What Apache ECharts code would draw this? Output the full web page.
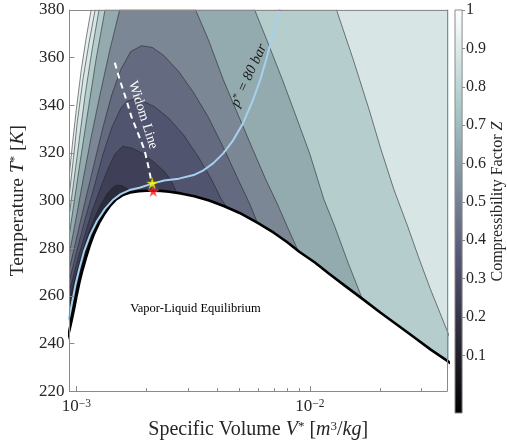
<!DOCTYPE html>
<html><head><meta charset="utf-8">
<script src="https://cdn.jsdelivr.net/npm/echarts@6/dist/echarts.min.js"></script>
<style>html,body{margin:0;padding:0;background:#fff}#c{width:507px;height:445px}</style>
</head><body><div id="c"></div>
<script>
// ---------------- data (V in m^3/kg, T in K) ----------------
const xTicksMajor = [1e-3, 1e-2];
const xTicksMinor = [2e-3, 3e-3, 4e-3, 5e-3, 6e-3, 7e-3, 8e-3, 9e-3, 2e-2, 3e-2];
const colorbarTicks = [0.1, 0.2, 0.3, 0.4, 0.5, 0.6, 0.7, 0.8, 0.9, 1.0];
const contourLevels = [1.1, 1.0, 0.9, 0.8, 0.7, 0.6, 0.5, 0.4, 0.3, 0.2, 0.1];

const contourZ110 = [[0.925e-3,308.6],[0.934e-3,311.1],[0.962e-3,323.6],[1.0e-3,338.2],[1.05e-3,354.9],[1.102e-3,368.3],[1.157e-3,380],[1.191e-3,387.5],[0.06,400]];
const contourZ100 = [[0.925e-3,300.2],[0.934e-3,302.7],[0.971e-3,317.3],[1.01e-3,333.2],[1.07e-3,351.6],[1.135e-3,366.6],[1.203e-3,380],[1.238e-3,387.5],[0.06,400]];
const contourZ090 = [[0.925e-3,291.9],[0.934e-3,294.4],[0.981e-3,309.8],[1.03e-3,325.7],[1.091e-3,344.5],[1.168e-3,363.3],[1.25e-3,380],[1.3e-3,387.5],[0.01238,387.5],[0.013,380],[0.01533,359.1],[0.01791,338.2],[0.02013,321.5],[0.02284,304.8],[0.02617,289.3],[0.02912,276.4],[0.03272,263.0],[0.03859,245.5],[0.04052,240.1]];
const contourZ080 = [[0.925e-3,283.5],[0.934e-3,286.0],[0.99e-3,302.7],[1.05e-3,319.4],[1.124e-3,338.2],[1.214e-3,359.1],[1.326e-3,380],[1.378e-3,387.5],[5.475e-3,387.5],[5.804e-3,380],[6.585e-3,366.6],[7.619e-3,350.8],[8.814e-3,334.1],[0.01,319.4],[0.01146,300.6],[0.01275,289.3],[0.01461,273.5],[0.01673,258.9]];
const contourZ070 = [[0.925e-3,275.2],[0.934e-3,277.7],[1.0e-3,293.1],[1.07e-3,309.0],[1.157e-3,326.5],[1.263e-3,344.5],[1.392e-3,363.3],[1.533e-3,380],[1.625e-3,387.5],[3.057e-3,387.5],[3.24e-3,380],[3.676e-3,367.5],[4.254e-3,350.8],[4.92e-3,336.1],[5.692e-3,321.5],[6.458e-3,309.0],[7.257e-3,298.5],[8.076e-3,288.1],[8.9e-3,278.9]];
const contourZ060 = [[0.925e-3,268.9],[0.934e-3,271.4],[1.01e-3,285.6],[1.091e-3,299.8],[1.191e-3,315.3],[1.3e-3,330.7],[1.419e-3,344.5],[1.548e-3,354.9],[1.707e-3,362.5],[1.898e-3,365.0],[2.113e-3,364.3],[2.374e-3,360.8],[2.747e-3,354.1],[3.178e-3,345.3],[3.676e-3,334.9],[4.254e-3,322.4],[4.92e-3,309.0],[5.528e-3,298.5],[5.917e-3,291.4]];
const contourZ050 = [[0.925e-3,263.9],[0.934e-3,266.4],[1.01e-3,279.7],[1.091e-3,292.3],[1.191e-3,305.6],[1.3e-3,319.4],[1.419e-3,330.7],[1.548e-3,338.6],[1.641e-3,341.6],[1.74e-3,342.4],[1.917e-3,341.8],[2.154e-3,339.5],[2.493e-3,334.5],[2.884e-3,327.4],[3.336e-3,318.2],[3.785e-3,309.0],[4.172e-3,300.6],[4.423e-3,297.1]];
const contourZ040 = [[0.925e-3,259.3],[0.934e-3,261.8],[1.0e-3,273.1],[1.081e-3,284.8],[1.168e-3,295.6],[1.263e-3,304.8],[1.365e-3,313.2],[1.461e-3,319.4],[1.579e-3,322.8],[1.74e-3,322.0],[1.917e-3,319.8],[2.154e-3,316.1],[2.374e-3,312.3],[2.542e-3,308.6],[2.694e-3,303.2]];
const contourZ030 = [[0.925e-3,255.5],[0.934e-3,258.0],[0.981e-3,266.4],[1.04e-3,275.6],[1.113e-3,284.8],[1.191e-3,292.3],[1.275e-3,298.5],[1.352e-3,302.7],[1.419e-3,305.2],[1.489e-3,306.5],[1.564e-3,306.3],[1.641e-3,305.2],[1.723e-3,303.5]];
const contourZ020 = [[0.925e-3,251.8],[0.934e-3,254.3],[0.971e-3,261.8],[1.02e-3,270.1],[1.07e-3,277.2],[1.135e-3,283.9],[1.203e-3,289.8],[1.287e-3,294.8],[1.378e-3,298.5],[1.461e-3,299.9]];
const contourZ010 = [[0.925e-3,248.0],[0.934e-3,250.5],[0.962e-3,256.8],[1.0e-3,263.0],[1.05e-3,271.4],[1.102e-3,278.1],[1.157e-3,283.9],[1.214e-3,288.5],[1.263e-3,291.4]];

const saturationDome = [[0.90e-3,240],[0.934e-3,245.5],[0.956e-3,250],[0.98e-3,255],[1.0e-3,259.5],[1.03e-3,265.5],[1.06e-3,270.5],[1.10e-3,276],[1.14e-3,281],[1.19e-3,286],[1.25e-3,290.5],[1.32e-3,294.5],[1.40e-3,298],[1.48e-3,300.5],[1.58e-3,302.3],[1.70e-3,303.4],[1.85e-3,303.95],[2.0e-3,304.1],[2.14e-3,304.13],[2.3e-3,304.05],[2.5e-3,303.7],[2.8e-3,303.0],[3.2e-3,301.8],[3.7e-3,300.0],[4.3e-3,297.6],[5.0e-3,294.8],[6.0e-3,290.5],[7.0e-3,286.5],[8.0e-3,282.5],[9.0e-3,278.5],[0.0105,274],[0.012,269.5],[0.014,264.5],[0.017,258.3],[0.020,253],[0.024,247.3],[0.028,242.5],[0.033,237.3],[0.0386,232.8],[0.045,228]];

const isobar80bar = [[0.925e-3,249.7],[0.934e-3,251.3],[0.957e-3,256.8],[0.99e-3,264.3],[1.03e-3,271.4],[1.081e-3,278.9],[1.146e-3,285.6],[1.226e-3,291.4],[1.326e-3,296.5],[1.433e-3,300.2],[1.548e-3,302.7],[1.69e-3,304.4],[1.862e-3,305.4],[2.113e-3,307.1],[2.374e-3,308.4],[2.747e-3,309.2],[3.178e-3,310.7],[3.502e-3,312.7],[3.859e-3,315.7],[4.254e-3,319.8],[4.689e-3,325.3],[5.166e-3,332.4],[5.692e-3,342.0],[6.152e-3,351.2],[6.585e-3,361.2],[6.98e-3,370.4],[7.40e-3,380],[7.619e-3,385]];

const widomLine = [[1.461e-3,357.9],[1.533e-3,350.8],[1.636e-3,342.4],[1.718e-3,335.4],[1.832e-3,328.5],[1.954e-3,321.5],[2.032e-3,314.5],[2.086e-3,309.0],[2.113e-3,307.3]];
const pseudoCriticalPoint = [[2.113e-3, 307.3]];
const criticalPoint = [[2.134e-3, 304.0]];

const colorbarRange = [[0, -0.05, 1.0]];

// ---------------- styles ----------------
const contourData = [contourZ110, contourZ100, contourZ090, contourZ080, contourZ070, contourZ060, contourZ050, contourZ040, contourZ030, contourZ020, contourZ010];
const bandFill = ['#e6efef','#d8e5e5','#b5cdcd','#93aaae','#7b8794','#646a80','#51546e','#3f4058','#2b2c3b','#17171e','#060608'];
const FONT = '"Liberation Serif", "DejaVu Serif", serif';
const AX = '#8a8a8a';
const TXT = '#262626';

function bone(t){
  const hr = Math.min(1, t/0.375), hg = Math.min(1, Math.max(0,(t-0.375)/0.375)), hb = Math.min(1, Math.max(0,(t-0.75)/0.25));
  const c = [(7*t+hb)/8, (7*t+hg)/8, (7*t+hr)/8].map(v => Math.round(Math.min(1,Math.max(0,v))*255));
  return 'rgb(' + c.join(',') + ')';
}
const cbStops = [];
for (let k = 0; k <= 40; k++) { const off = k/40; cbStops.push({offset: off, color: bone(1-off)}); }

const chart = echarts.init(document.getElementById('c'), null, {renderer:'canvas'});

const series = [];
contourLevels.forEach((lv, i) => {
  series.push({
    name: 'Z=' + lv, type: 'line', xAxisIndex: 0, yAxisIndex: 0,
    data: contourData[i], symbol: 'none', smooth: false, clip: true, silent: true,
    lineStyle: {color: 'rgba(35,35,35,0.8)', width: 0.7},
    areaStyle: {color: bandFill[i], opacity: 1, origin: 'start'},
    z: 2 + i
  });
});
series.push({
  name: 'dome', type: 'line', data: saturationDome, symbol: 'none', clip: true, silent: true,
  lineStyle: {color: '#000', width: 2.6},
  areaStyle: {color: '#fff', opacity: 1, origin: 'start'}, z: 30
});
series.push({
  name: 'isobar', type: 'line', data: isobar80bar, symbol: 'none', clip: true, silent: true,
  lineStyle: {color: '#a6d0f0', width: 2}, z: 31
});
series.push({
  name: 'widom', type: 'line', data: widomLine, symbol: 'none', clip: true, silent: true,
  lineStyle: {color: '#ffffff', width: 2, type: [6, 4.5]}, z: 32
});
const STAR = 'path://M50,0 L61,35 L98,35 L68,57 L79,91 L50,70 L21,91 L32,57 L2,35 L39,35 Z';
series.push({type:'scatter', data: pseudoCriticalPoint, symbol: STAR, symbolSize: 11, itemStyle:{color:'#ffff00', borderColor:'#c8b400', borderWidth:0.5}, z: 33, silent:true});
series.push({type:'scatter', data: criticalPoint, symbol: STAR, symbolSize: 11, itemStyle:{color:'#ff1010', borderColor:'#ff8080', borderWidth:0.5}, z: 34, silent:true});
series.push({
  type: 'custom', xAxisIndex: 3, yAxisIndex: 2, data: colorbarRange, silent: true, clip: false,
  renderItem: function(params, api){
    const lo = api.coord([0, api.value(1)]);
    const hi = api.coord([1, api.value(2)]);
    return {type:'rect', shape:{x: lo[0], y: hi[1], width: hi[0]-lo[0], height: lo[1]-hi[1]},
      style:{fill: new echarts.graphic.LinearGradient(0,0,0,1, cbStops), stroke: AX, lineWidth: 1}};
  }
});

function richTitle(size){
  return {
    n: {fontFamily: FONT, fontSize: size, color: TXT},
    i: {fontFamily: FONT, fontSize: size, fontStyle: 'italic', color: TXT},
    s: {fontFamily: FONT, fontSize: Math.round(size*0.65), color: TXT, verticalAlign: 'top'}
  };
}

const option = {
  animation: false,
  backgroundColor: '#ffffff',
  grid: [
    {left: 64, top: 10, width: 383, height: 383, containLabel: false},
    {left: 455, top: 10, width: 12, height: 403, containLabel: false}
  ],
  xAxis: [
    {gridIndex: 0, type: 'log', logBase: 10, min: 9.34e-4, max: 0.0386, position: 'bottom', z: 50,
     axisLine: {show: true, onZero: false, lineStyle: {color: AX, width: 1}},
     axisTick: {show: true, inside: true, length: 5, customValues: xTicksMajor, lineStyle: {color: AX}},
     axisLabel: {show: true, customValues: xTicksMajor, margin: 7,
       formatter: v => (v < 0.005 ? '{b|10}{s|−3}' : '{b|10}{s|−2}'),
       rich: {b: {fontFamily: FONT, fontSize: 17, color: TXT}, s: {fontFamily: FONT, fontSize: 11.5, color: TXT, verticalAlign: 'top'}}},
     splitLine: {show: false}, minorTick: {show: false},
     name: '{n|Specific Volume }{i|V}{s|*}{n| [}{i|m}{s|3}{n|/}{i|kg}{n|]}', nameLocation: 'middle', nameGap: 27,
     nameTextStyle: {rich: richTitle(20)}},
    {gridIndex: 0, type: 'log', logBase: 10, min: 9.34e-4, max: 0.0386, position: 'bottom', z: 50,
     axisLine: {show: false, onZero: false},
     axisTick: {show: true, inside: true, length: 3, customValues: xTicksMinor, lineStyle: {color: AX}},
     axisLabel: {show: false}, splitLine: {show: false}},
    {gridIndex: 0, type: 'log', logBase: 10, min: 9.34e-4, max: 0.0386, position: 'top', z: 50,
     axisLine: {show: true, onZero: false, lineStyle: {color: AX, width: 1}},
     axisTick: {show: false}, axisLabel: {show: false}, splitLine: {show: false}},
    {gridIndex: 1, type: 'value', min: 0, max: 1, show: false}
  ],
  yAxis: [
    {gridIndex: 0, type: 'value', min: 220, max: 380, interval: 20, position: 'left', z: 50,
     axisLine: {show: true, onZero: false, lineStyle: {color: AX, width: 1}},
     axisTick: {show: true, inside: true, length: 5, lineStyle: {color: AX}},
     axisLabel: {fontFamily: FONT, fontSize: 17, color: TXT, margin: 5},
     splitLine: {show: false},
     name: '{n|Temperature }{i|T}{s|*}{n| [}{i|K}{n|]}', nameLocation: 'middle', nameRotate: 90, nameGap: 36,
     nameTextStyle: {rich: richTitle(19.5)}},
    {gridIndex: 0, type: 'value', min: 220, max: 380, position: 'right', z: 50,
     axisLine: {show: true, onZero: false, lineStyle: {color: AX, width: 1}},
     axisTick: {show: false}, axisLabel: {show: false}, splitLine: {show: false}},
    {gridIndex: 1, type: 'value', min: -0.05, max: 1.0, position: 'right', z: 50,
     axisLine: {show: false, onZero: false},
     axisTick: {show: true, inside: false, length: 3, customValues: colorbarTicks, lineStyle: {color: AX}},
     axisLabel: {customValues: colorbarTicks, fontFamily: FONT, fontSize: 16, color: TXT, margin: 4,
       formatter: v => (Math.abs(v - 1) < 1e-9 ? '1' : v.toFixed(1))},
     splitLine: {show: false},
     name: '{n|Compressibility Factor }{i|Z}', nameLocation: 'middle', nameRotate: 90, nameGap: 26,
     nameTextStyle: {padding: [0, 0, 0, 20], rich: {
       n: {fontFamily: FONT, fontSize: 16, color: TXT},
       i: {fontFamily: FONT, fontSize: 16, fontStyle: 'italic', color: TXT}}}}
  ],
  graphic: [
    {type: 'text', x: 143, y: 115, rotation: -1.265, z: 100, silent: true,
     style: {text: 'Widom Line', fontFamily: FONT, fontSize: 14, fill: '#ffffff', align: 'center', verticalAlign: 'middle'}},
    {type: 'text', x: 249, y: 75.5, rotation: 1.14, z: 100, silent: true,
     style: {text: '{i|p}{s|*}{n| = 80 }{i|bar}', fill: '#1a1a1a', align: 'center', verticalAlign: 'middle',
       rich: {i: {fontFamily: FONT, fontSize: 14.5, fontStyle: 'italic', fill: '#1a1a1a'},
              n: {fontFamily: FONT, fontSize: 14.5, fontStyle: 'italic', fill: '#1a1a1a'},
              s: {fontFamily: FONT, fontSize: 10, fill: '#1a1a1a', verticalAlign: 'top'}}}},
    {type: 'text', x: 195.5, y: 309, z: 100, silent: true,
     style: {text: 'Vapor-Liquid Equilibrium', fontFamily: FONT, fontSize: 12.5, fill: '#000000', align: 'center', verticalAlign: 'middle'}}
  ],
  series: series
};
chart.setOption(option);
</script>
</body></html>
